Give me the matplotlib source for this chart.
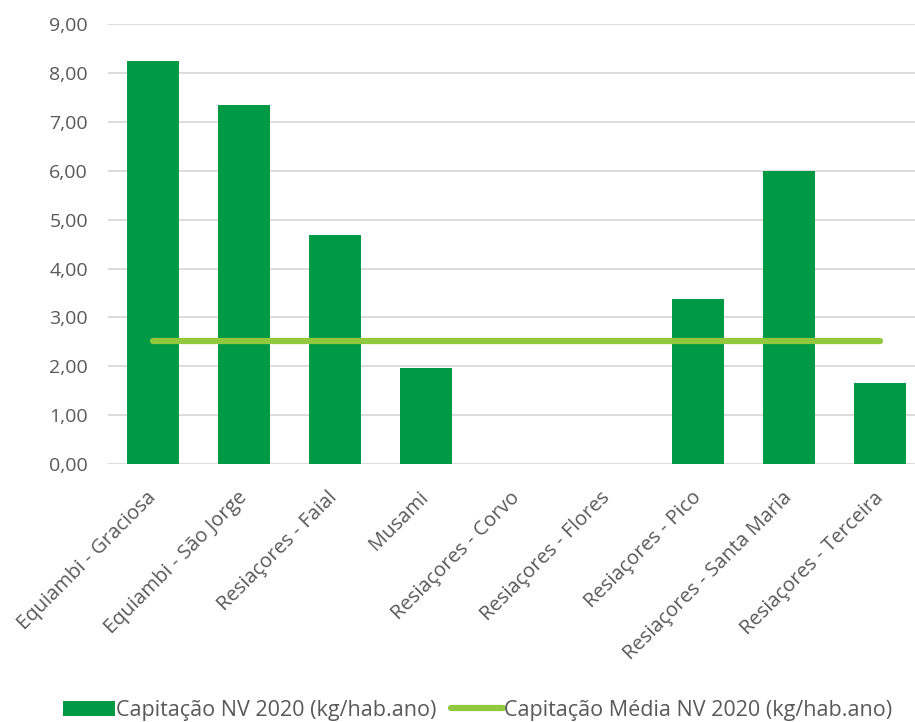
import numpy as np
import matplotlib
matplotlib.use("Agg")
from matplotlib import pyplot as plt
from matplotlib.ticker import FuncFormatter

# data
categorias = ["Equiambi - Graciosa", "Equiambi - São Jorge", "Resiaçores - Faial",
              "Musami", "Resiaçores - Corvo", "Resiaçores - Flores",
              "Resiaçores - Pico", "Resiaçores - Santa Maria", "Resiaçores - Terceira"]
capitacao = [8.25, 7.35, 4.68, 1.97, 0.0, 0.0, 3.38, 5.99, 1.66]
capitacao_media = [2.52] * len(categorias)

# styles
verde = "#009A44"
verde_claro = "#92C83E"
cinza = "#595959"
plt.rcParams['font.family'] = ['Open Sans', 'DejaVu Sans']

fig = plt.figure(figsize=(9.15, 7.22), dpi=100)
ax = fig.add_axes([0.1175, 0.357, 0.894, 0.61])

x = np.arange(len(categorias))
barras = ax.bar(x, capitacao, width=0.57, color=verde, zorder=2)
linha, = ax.plot(x, capitacao_media, color=verde_claro, lw=4.5, solid_capstyle='round', zorder=3)

ax.set_xlim(-0.5, len(categorias) - 0.5)
ax.set_ylim(0, 9)
ax.set_yticks(np.arange(0, 10, 1))
ax.yaxis.set_major_formatter(FuncFormatter(lambda v, p: f"{v:.2f}".replace(".", ",")))
ax.grid(axis='y', color="#D9D9D9", lw=1.3, zorder=0)
ax.set_axisbelow(True)
for s in ax.spines.values():
    s.set_visible(False)
ax.tick_params(axis='y', length=0, labelsize=14, colors=cinza, pad=14)
ax.tick_params(axis='x', length=0, labelsize=14.5, colors=cinza, pad=22)
ax.set_xticks(x)
ax.set_xticklabels(categorias, rotation=45, ha='right', va='center', rotation_mode='anchor')

fig.legend([barras, linha],
           ["Capitação NV 2020 (kg/hab.ano)", "Capitação Média NV 2020 (kg/hab.ano)"],
           loc='lower center', bbox_to_anchor=(0.522, -0.025), ncol=2, frameon=False,
           fontsize=15.5, labelcolor=cinza, handlelength=2.4, handletextpad=0.05,
           columnspacing=0.7)

plt.savefig("out.png", dpi=100)
